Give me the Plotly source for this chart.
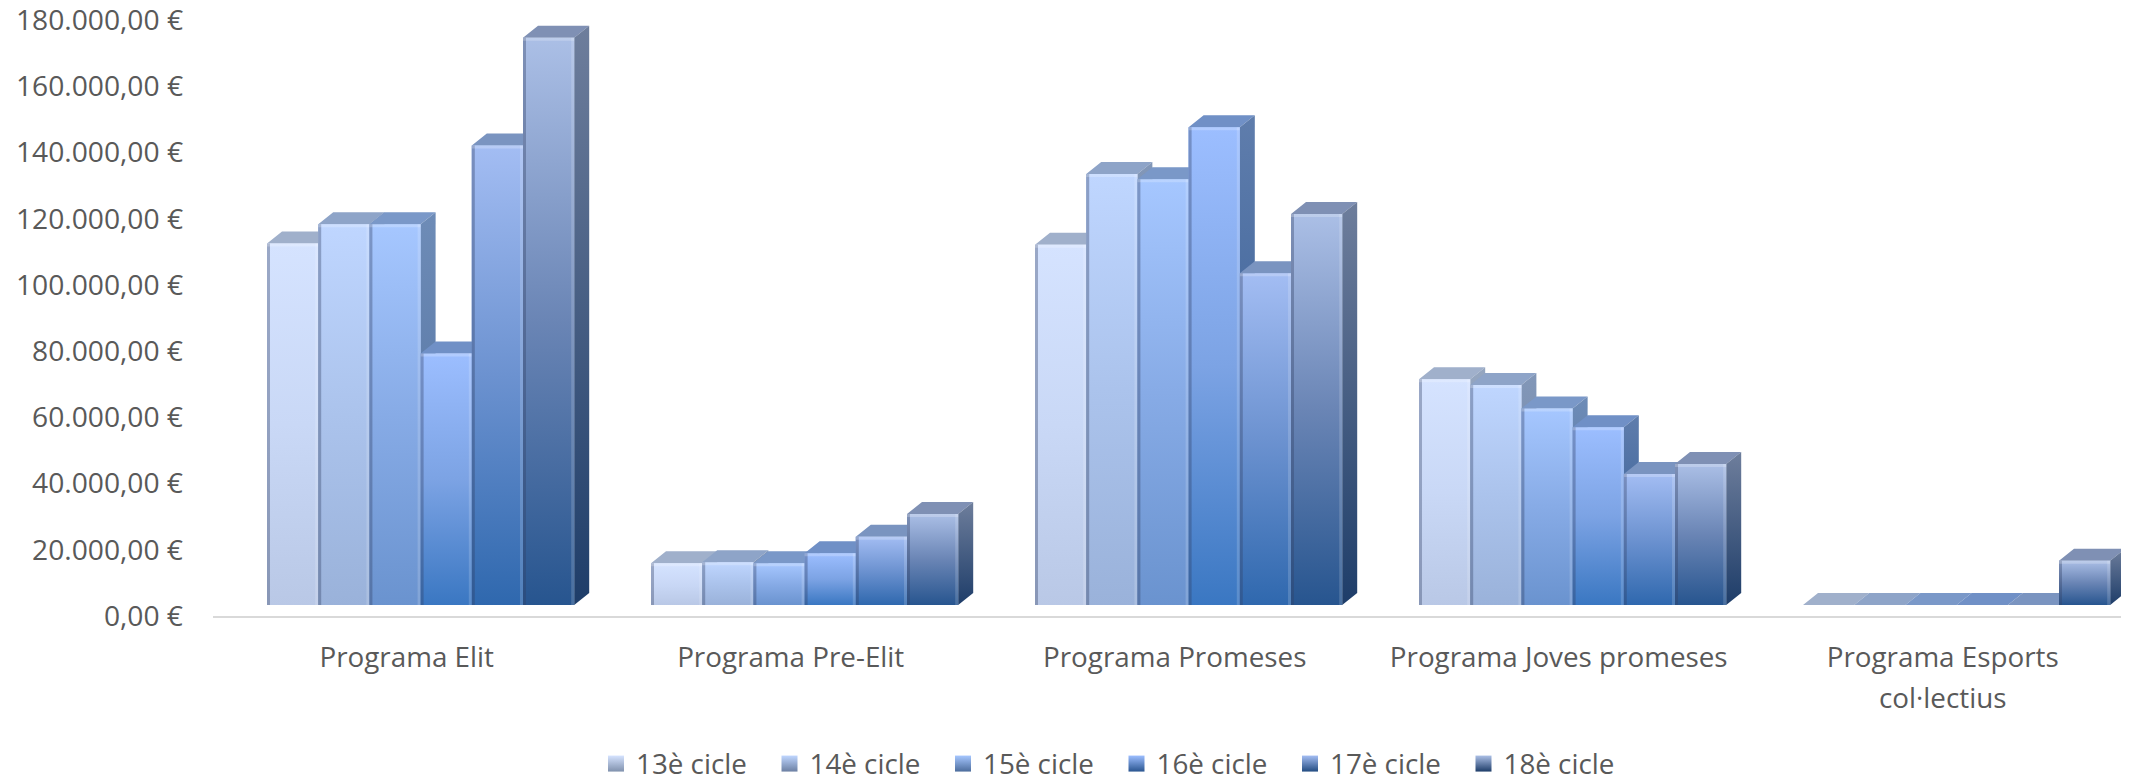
import plotly.graph_objects as go

categories = ["Programa Elit", "Programa Pre-Elit", "Programa Promeses", "Programa Joves promeses", "Programa Esports"]
series_names = ["13è cicle", "14è cicle", "15è cicle", "16è cicle", "17è cicle", "18è cicle"]
cicle_13 = [109200, 12600, 108800, 68200, 0]
cicle_14 = [115000, 12900, 130200, 66500, 0]
cicle_15 = [115000, 12600, 128600, 59400, 0]
cicle_16 = [76000, 15600, 144300, 53700, 0]
cicle_17 = [138800, 20600, 100200, 39600, 0]
cicle_18 = [171400, 27500, 118100, 42600, 13400]
series_values = [cicle_13, cicle_14, cicle_15, cicle_16, cicle_17, cicle_18]
y_ticks = list(range(0, 180001, 20000))
y_tick_labels = ["0,00 €", "20.000,00 €", "40.000,00 €", "60.000,00 €", "80.000,00 €", "100.000,00 €",
                 "120.000,00 €", "140.000,00 €", "160.000,00 €", "180.000,00 €"]

front_top = ["#D5E3FF", "#BFD6FF", "#A6C7FF", "#9CBEFF", "#A3BDF3", "#ABBFE6"]
front_mid = ["#C9D8F6", "#ABC3EC", "#87ABE6", "#7CA3E4", "#6C92D0", "#6A85B5"]
front_bot = ["#B9C8E6", "#9AB2DA", "#6A93CF", "#3A77C2", "#2F68AE", "#27558F"]
side_top = ["#95A6C0", "#8297B8", "#6E8CB7", "#5F7DAC", "#66799F", "#6E7E9C"]
side_bot = ["#8091AD", "#6C80A3", "#4C6C9C", "#2A5590", "#234C82", "#1E3D69"]
top_col = ["#A0B0CB", "#8EA4C8", "#7A98C8", "#7090C6", "#7A94C0", "#7F90B4"]

# The page adds an 8 px body margin, so the figure is laid out 8 px to the left and up
PAGE_PAD = 8
PX_PER_EURO = 3.31 / 1000
PX_PER_CAT = 384
BAR_PX, DX_PX, DY_PX = 51.2, 15, 12
PLOT_L, AXIS_Y, CAT0_X = 213 - PAGE_PAD, 616 - PAGE_PAD, 406.7 - PAGE_PAD
FIG_W, FIG_H = 2129 - PAGE_PAD, 775
bar_w = BAR_PX / PX_PER_CAT
first_off = (267 - 406.7) / PX_PER_CAT
dx = DX_PX / PX_PER_CAT
dy = DY_PX / PX_PER_EURO
px_x = 1 / PX_PER_CAT
px_y = 1 / PX_PER_EURO
base_shift = 11 / PX_PER_EURO
x_idx = list(range(len(categories)))


def poly(xs, ys, **kw):
    return go.Scatter(x=xs, y=ys, yaxis="y2", mode="lines", fill="toself", line=dict(width=0),
                      hoverinfo="skip", showlegend=False, **kw)


fig = go.Figure()
# The bars themselves (values through the axes)
for s, (name, vals) in enumerate(zip(series_names, series_values)):
    fig.add_trace(go.Bar(x=x_idx, y=vals, yaxis="y2", width=bar_w, offset=first_off + s * bar_w,
                         marker=dict(color=front_mid[s], line=dict(width=0)), name=name, showlegend=False))

# Gradient and 3-D faces
for s, vals in enumerate(series_values):
    off = first_off + s * bar_w
    tx, ty, lx, ly, rx, ry, hx, hy = [], [], [], [], [], [], [], []
    for i, v in enumerate(vals):
        x0 = i + off
        x1 = x0 + bar_w
        tx += [x0, x1, x1 + dx, x0 + dx, x0, None]
        ty += [v, v, v + dy, v + dy, v, None]
        if v > 0:
            lx += [x0, x0 + 3 * px_x, x0 + 3 * px_x, x0, x0, None]
            ly += [0, 0, v, v, 0, None]
            rx += [x1 - 3 * px_x, x1, x1, x1 - 3 * px_x, x1 - 3 * px_x, None]
            ry += [0, 0, v, v, 0, None]
            hx += [x0, x1, x1, x0, x0, None]
            hy += [v - 3 * px_y, v - 3 * px_y, v, v, v - 3 * px_y, None]
    fig.add_trace(poly(tx, ty, fillcolor=top_col[s]))
    for i, v in enumerate(vals):
        if v <= 0:
            continue
        x0 = i + off
        x1 = x0 + bar_w
        fig.add_trace(poly([x1, x1 + dx, x1 + dx, x1, x1], [0, dy, v + dy, v, 0],
                           fillgradient=dict(type="vertical", colorscale=[[0, side_bot[s]], [1, side_top[s]]])))
        fig.add_trace(poly([x0, x1, x1, x0, x0], [0, 0, v, v, 0],
                           fillgradient=dict(type="vertical",
                                             colorscale=[[0, front_bot[s]], [0.5, front_mid[s]], [1, front_top[s]]])))
    fig.add_trace(poly(lx, ly, fillcolor="rgba(50,65,100,0.36)"))
    fig.add_trace(poly(rx, ry, fillcolor="rgba(255,255,255,0.16)"))
    fig.add_trace(poly(hx, hy, fillcolor="rgba(255,255,255,0.22)"))

# Legend entries (they also keep the primary value axis in the picture)
for s, name in enumerate(series_names):
    fig.add_trace(go.Scatter(x=[None], y=[None], mode="markers", name=name,
                             marker=dict(symbol="square", size=19, color=front_top[s],
                                         gradient=dict(type="vertical", color=side_bot[s]),
                                         line=dict(width=0))))

fig.update_layout(
    width=FIG_W, height=FIG_H,
    margin=dict(l=PLOT_L, r=0, t=0, b=FIG_H - AXIS_Y, autoexpand=False),
    paper_bgcolor="white", plot_bgcolor="white",
    barmode="overlay",
    font=dict(family="Open Sans", color="#595959"),
    xaxis=dict(range=[(PLOT_L - CAT0_X) / PX_PER_CAT, (FIG_W - CAT0_X) / PX_PER_CAT],
               tickmode="array", tickvals=x_idx, ticktext=categories,
               tickfont=dict(size=27.8, color="#595959"), ticks="", showgrid=False, zeroline=False,
               showline=True, linecolor="#D9D9D9", linewidth=2, ticklabelstandoff=16),
    yaxis=dict(range=[0, AXIS_Y / PX_PER_EURO], tickmode="array", tickvals=y_ticks, ticktext=y_tick_labels,
               tickfont=dict(size=28.2, color="#595959"), ticks="", showgrid=False, zeroline=False,
               showline=False, ticklabelstandoff=29, ticklabeloverflow="allow"),
    yaxis2=dict(range=[-base_shift, AXIS_Y / PX_PER_EURO - base_shift], overlaying="y", visible=False),
    legend=dict(orientation="h", xref="container", yref="container", x=588 / FIG_W, y=44 / FIG_H, xanchor="left",
                yanchor="top", entrywidth=128.5, entrywidthmode="pixels", traceorder="normal",
                itemsizing="trace", font=dict(size=27.8, color="#595959"), tracegroupgap=0,
                bgcolor="rgba(0,0,0,0)"),
    annotations=[dict(text="col·lectius", xref="x", yref="paper", x=4, y=0, yshift=-81, showarrow=False,
                      yanchor="middle", font=dict(size=27.8, color="#595959"))],
)

fig.write_html("out.html")
